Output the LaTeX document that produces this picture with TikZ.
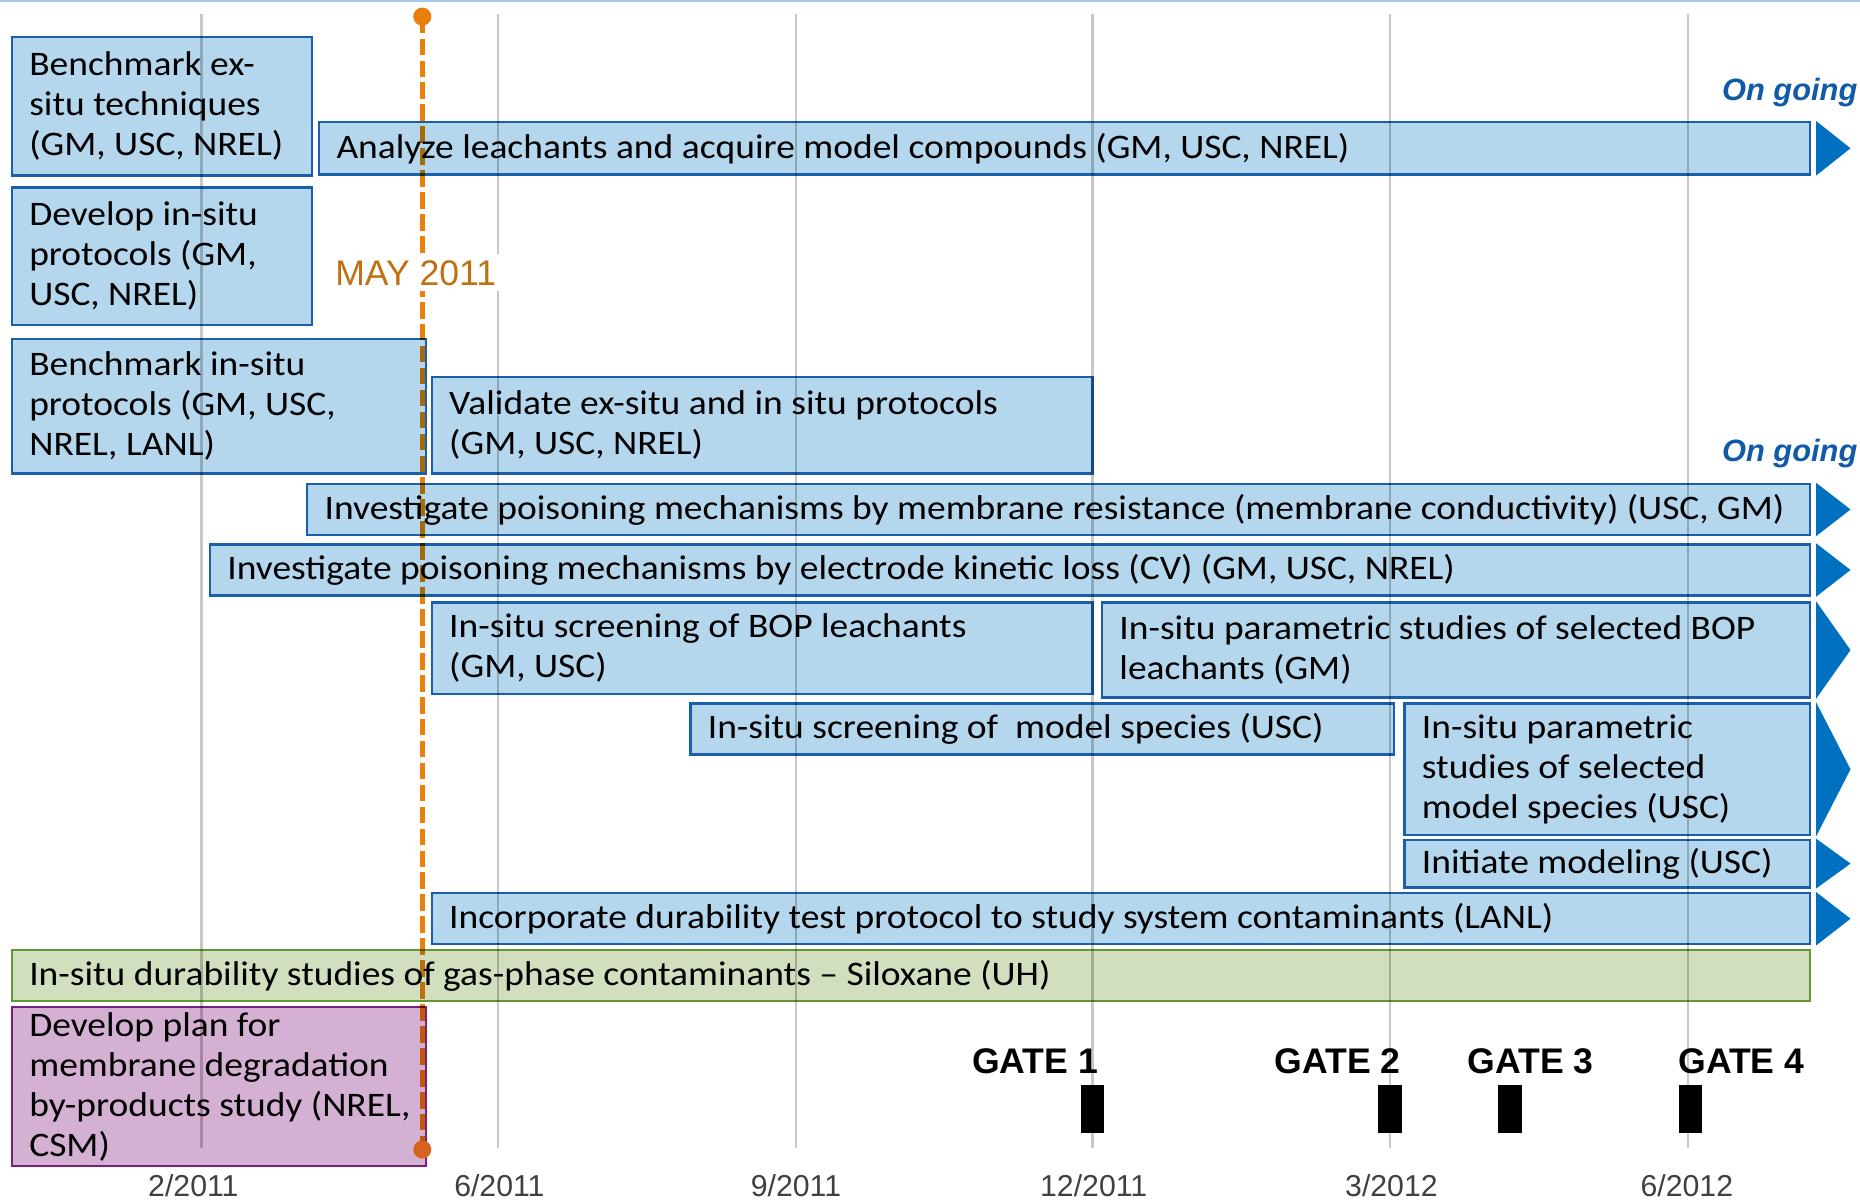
\documentclass[tikz,border=0pt]{standalone}
\usepackage{fontspec}
\setmainfont{Carlito}[FakeStretch=1.09]
\newfontfamily\arialf{Liberation Sans}
\usetikzlibrary{calc}
\definecolor{boxfill}{RGB}{180,215,237}
\definecolor{boxline}{RGB}{27,94,170}
\definecolor{arrowblue}{RGB}{0,112,192}
\definecolor{greenfill}{RGB}{209,223,190}
\definecolor{greenline}{RGB}{98,152,50}
\definecolor{purplefill}{RGB}{212,176,211}
\definecolor{purpleline}{RGB}{122,31,122}
\definecolor{gridgray}{RGB}{200,200,200}
\definecolor{mayorange}{RGB}{234,128,10}
\definecolor{maybot}{RGB}{214,100,30}
\definecolor{maytext}{RGB}{192,112,16}
\definecolor{ongoingc}{RGB}{16,90,168}
\definecolor{axisgray}{RGB}{64,64,64}
\definecolor{toplinec}{RGB}{168,200,232}
\tikzset{
  task/.style={draw=boxline, fill=boxfill, line width=2pt, rectangle, inner sep=0pt, anchor=north west},
  gtask/.style={task, draw=greenline, fill=greenfill},
  ptask/.style={task, draw=purpleline, fill=purplefill},
  tasktext/.style={anchor=west, align=left, inner sep=0pt, font=\fontsize{29}{33.8}\selectfont, text=black},
  gridline/.style={draw=gridgray, line width=2pt},
  mayline/.style={draw=mayorange, line width=4.5pt, dash pattern=on 14pt off 4.5pt},
  maydot/.style={circle, fill=mayorange, minimum size=15pt, inner sep=0pt},
  maydotb/.style={circle, fill=maybot, minimum size=15pt, inner sep=0pt},
  axislabel/.style={anchor=base, inner sep=0pt, text=axisgray, font=\arialf\fontsize{25.5}{30}\selectfont},
  gatelabel/.style={anchor=base, inner sep=0pt, text=black, font=\arialf\bfseries\fontsize{30}{34}\selectfont},
  gatebar/.style={rectangle, fill=black, minimum width=20pt, minimum height=40pt, inner sep=0pt},
  ongoing/.style={anchor=east, inner sep=0pt, text=ongoingc, font=\arialf\bfseries\itshape\fontsize{26}{30}\selectfont},
  maylabel/.style={fill=white, text=maytext, inner xsep=2pt, inner ysep=5pt, font=\arialf\fontsize{30}{34}\selectfont}
}
\newcommand\mktask[7]{%
  \node[#1, minimum width={#5-#3}, minimum height={#6-#4}] (#2) at (#3,#4) {};
  \node[tasktext] (#2t) at ([xshift=15.5pt]#2.west) {#7};
}
\newcommand\mkarrow[1]{%
  \fill[arrowblue] ([xshift=4pt]#1.north east) -- ([xshift=33pt]#1.east) -- ([xshift=4pt]#1.south east) -- cycle;
}
\begin{document}
\begin{tikzpicture}[x=1pt,y=-1pt]
\useasboundingbox (0,0) rectangle (1568,1013);
\draw[toplinec, line width=2pt] (0,0.5) -- (1568,0.5);

% tasks
\mktask{task}{b1}{9}{30}{262}{147}{Benchmark ex-\\situ techniques\\(GM, USC, NREL)}
\mktask{task}{b2}{268}{102}{1525}{146}{Analyze leachants and acquire model compounds (GM, USC, NREL)}
\mkarrow{b2}
\mktask{task}{b3}{9}{157}{262}{273}{Develop in-situ\\protocols (GM,\\USC, NREL)}
\mktask{task}{b4}{9}{285}{358}{398}{Benchmark in-situ\\protocols (GM, USC,\\NREL, LANL)}
\mktask{task}{b5}{363}{317}{920}{398}{Validate ex-situ and in situ protocols\\(GM, USC, NREL)}
\mktask{task}{b6}{258}{407}{1525}{450}{Investigate poisoning mechanisms by membrane resistance (membrane conductivity) (USC, GM)}
\mkarrow{b6}
\mktask{task}{b7}{176}{458}{1525}{501}{Investigate poisoning mechanisms by electrode kinetic loss (CV) (GM, USC, NREL)}
\mkarrow{b7}
\mktask{task}{b8}{363}{507}{920}{584}{In-situ screening of BOP leachants\\(GM, USC)}
\mktask{task}{b9}{928}{507}{1525}{587}{In-situ parametric studies of selected BOP\\leachants (GM)}
\mkarrow{b9}
\mktask{task}{b10}{581}{592}{1174}{635}{In-situ screening of\ \ model species (USC)}
\mktask{task}{b11}{1183}{592}{1525}{703}{In-situ parametric\\studies of selected\\model species (USC)}
\mkarrow{b11}
\mktask{task}{b12}{1183}{707}{1525}{747}{Initiate modeling (USC)}
\mkarrow{b12}
\mktask{task}{b13}{363}{752}{1525}{795}{Incorporate durability test protocol to study system contaminants (LANL)}
\mkarrow{b13}
\mktask{gtask}{b14}{9}{800}{1525}{843}{In-situ durability studies of gas-phase contaminants – Siloxane (UH)}
\mktask{ptask}{b15}{9}{848}{358}{982}{Develop plan for\\membrane degradation\\by-products study (NREL,\\CSM)}

% on going labels
\node[ongoing] (og1) at (1566,78) {On going};
\node[ongoing] (og2) at (1566,382) {On going};

% gates
\node[gatebar] (g1) at (921,935) {};
\node[gatebar] (g2) at (1172,935) {};
\node[gatebar] (g3) at (1273,935) {};
\node[gatebar] (g4) at (1425,935) {};
\node[gatelabel] (gl1) at (872.5,905) {GATE 1};
\node[gatelabel] (gl2) at (1127.5,905) {GATE 2};
\node[gatelabel] (gl3) at (1290.5,905) {GATE 3};
\node[gatelabel] (gl4) at (1468,905) {GATE 4};

% grid lines and May line, multiplied over the boxes
\node[maydot] (mtop) at (356,14) {};
\node[maydotb] (mbot) at (356,969) {};
\begin{scope}[blend mode=multiply]
  \foreach \gx in {170,420,671,921,1172,1423} {
    \draw[gridline] (\gx,12) -- (\gx,968);
  }
  \draw[mayline] (mtop.center) -- (mbot.center);
\end{scope}
\node[maydot] at (mtop) {};
\node[maydotb] at (mbot) {};

\node[maylabel] (may) at (350.5,230) {MAY 2011};

% axis
\node[axislabel] (a1) at (163,1009) {2/2011};
\node[axislabel] (a2) at (421,1009) {6/2011};
\node[axislabel] (a3) at (671,1009) {9/2011};
\node[axislabel] (a4) at (922,1009) {12/2011};
\node[axislabel] (a5) at (1173,1009) {3/2012};
\node[axislabel] (a6) at (1422,1009) {6/2012};
\end{tikzpicture}
\end{document}
